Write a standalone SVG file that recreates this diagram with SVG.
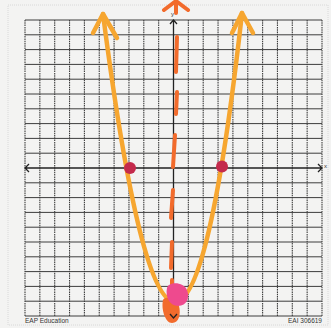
<svg xmlns="http://www.w3.org/2000/svg" width="331" height="328" viewBox="0 0 331 328">
<style>
.bg{fill:#f3f3f2}
.frame{fill:none;stroke:#d8d8d8;stroke-width:1;stroke-dasharray:1 1}
.hgrid{fill:none;stroke:#3c3c3c;stroke-width:1}
.vgrid{fill:none;stroke:#3c3c3c;stroke-width:1.1;stroke-dasharray:1.5 0.8}
.axis{fill:none;stroke:#222;stroke-width:1.3}
.lbl{font-family:"Liberation Sans",Arial,sans-serif;fill:#333}
.parab{fill:none;stroke:#f6a630;stroke-width:4.5;stroke-linecap:round;stroke-linejoin:round}
.sym{fill:none;stroke:#f26b2c;stroke-width:4;stroke-linecap:round;stroke-linejoin:round}
.dot{fill:#c42a4c}
</style>
<rect class="bg" x="0" y="0" width="331" height="328"/>
<rect class="frame" x="8" y="5" width="320" height="320"/>
<g id="grid">
<path class="hgrid" d="M25 20H322M25 34.8H322M25 49.6H322M25 64.4H322M25 79.2H322M25 94H322M25 108.8H322M25 123.6H322M25 138.4H322M25 153.2H322M25 182.8H322M25 197.6H322M25 212.4H322M25 227.2H322M25 242H322M25 256.8H322M25 271.6H322M25 286.4H322M25 301.2H322M25 316H322"/>
<path class="vgrid" d="M25 20V316M39.85 20V316M54.7 20V316M69.55 20V316M84.4 20V316M99.25 20V316M114.1 20V316M128.95 20V316M143.8 20V316M158.65 20V316M188.35 20V316M203.2 20V316M218.05 20V316M232.9 20V316M247.75 20V316M262.6 20V316M277.45 20V316M292.3 20V316M307.15 20V316M322 20V316"/>
</g>
<g id="axes">
<path class="axis" d="M25 168H322M29 164L25 168L29 172M318 164L322 168L318 172"/>
<path class="axis" d="M173.5 20V318M170 24L173.5 20L177 24M170 314L173.5 318L177 314"/>
<text class="lbl" x="324" y="168" font-size="6">x</text>
<text class="lbl" x="171" y="16" font-size="6">y</text>
</g>
<g id="symmetry-line">
<path class="sym" d="M176 1V13M164 10L176 1L188 10"/>
<path class="sym" d="M177 37L176 72M177 92L176 114M175 135L173 167M173 190L171 218M172 242L171 268M172 280L172 290"/>
</g>
<g id="parabola">
<path class="parab" d="M103 14Q177.5 590 242 13"/>
<path class="parab" d="M93 33L103 14L117 38M232 33L242 13L253 33"/>
</g>
<g id="vertex">
<path d="M163 300C161 309 165 323 172 323C179 323 181 314 179 306C177 299 165 295 163 300Z" fill="#f26b2c"/>
<path d="M167 288C165 297 170 306 178 306C187 306 190 297 187 290C184 282 169 281 167 288Z" fill="#ee4a8e"/>
<path class="axis" d="M170 314L173.5 318L177 314"/>
</g>
<g id="intercepts">
<circle class="dot" cx="130" cy="168" r="6"/>
<circle class="dot" cx="222" cy="166.5" r="6"/>
</g>
<g id="labels">
<text class="lbl" x="25" y="323" font-size="6.5">EAP Education</text>
<text class="lbl" x="322" y="323" font-size="6.5" text-anchor="end">EAI 306619</text>
</g>
</svg>
